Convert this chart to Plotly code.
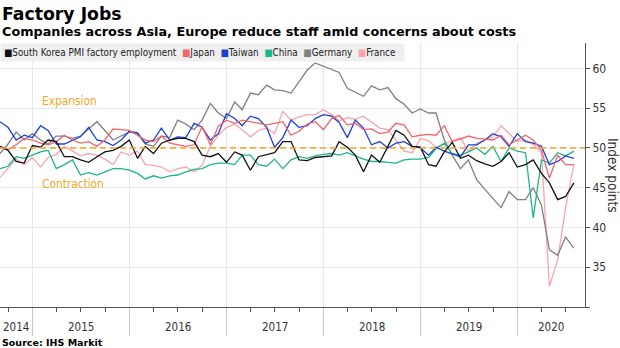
import pandas as pd
import plotly.graph_objects as go

# Monthly readings, Aug 2014 .. Jul 2020, plotted at month end
months = pd.date_range("2014-09-01", periods=72, freq="MS") - pd.Timedelta(days=1)

south_korea = [50.2, 49.7, 48.3, 48.1, 50.3, 50.1, 51.0, 50.8, 48.9, 48.9, 48.5, 48.2,
               48.9, 49.5, 49.7, 50.2, 51.0, 48.7, 50.2, 49.3, 50.6, 51.0, 51.2, 51.2,
               50.8, 49.1, 48.9, 49.3, 48.2, 49.5, 49.1, 47.2, 48.9, 49.2, 49.4, 50.8,
               50.8, 48.5, 48.4, 48.8, 48.9, 49.0, 50.8, 50.1, 49.1, 47.0, 49.1, 48.2,
               50.2, 52.2, 51.6, 50.2, 50.1, 47.9, 47.7, 49.5, 50.7, 48.7, 49.1, 48.4,
               48.0, 47.7, 48.3, 49.4, 47.6, 47.9, 48.5, 46.8, 45.6, 43.5, 43.9, 45.6]
japan = [50.2, 49.8, 50.4, 51.2, 51.0, 50.6, 50.4, 50.8, 51.6, 51.0, 50.6, 50.8,
         50.2, 51.0, 52.4, 52.3, 52.2, 51.6, 51.0, 50.8, 51.5, 50.6, 50.4, 50.2,
         50.4, 52.7, 50.4, 52.7, 53.5, 53.1, 53.5, 53.3, 53.1, 52.9, 53.1, 53.3,
         51.6, 52.1, 53.0, 53.3, 52.3, 53.7, 54.1, 52.9, 53.1, 52.3, 52.4, 51.8,
         52.0, 53.1, 52.9, 51.4, 51.6, 51.7, 51.6, 52.8, 50.8, 51.1, 51.5, 51.2,
         51.1, 51.0, 51.6, 50.4, 51.0, 51.6, 51.0, 49.7, 46.2, 49.1, 47.9, 47.9]
taiwan = [53.3, 52.6, 51.0, 51.6, 51.3, 52.8, 52.2, 50.5, 50.5, 51.0, 51.4, 52.6,
          51.0, 50.8, 50.3, 51.0, 52.1, 51.9, 50.6, 51.0, 52.5, 51.0, 51.4, 51.3,
          53.1, 52.6, 51.0, 51.8, 54.3, 53.7, 52.8, 54.0, 53.7, 52.6, 50.1, 51.3,
          53.5, 52.6, 52.8, 53.7, 54.2, 54.0, 53.2, 51.3, 53.5, 52.5, 50.4, 50.8,
          50.0, 50.6, 50.8, 50.2, 50.0, 49.1, 50.1, 49.6, 49.3, 48.9, 50.4, 50.4,
          51.0, 51.8, 51.4, 50.2, 51.8, 50.8, 50.6, 50.2, 47.9, 48.3, 49.0, 48.7]
china = [47.4, 47.7, 48.9, 48.7, 49.1, 49.5, 49.7, 47.4, 47.9, 48.5, 46.6, 46.9,
         46.6, 47.0, 47.4, 47.4, 47.2, 46.8, 46.1, 46.5, 46.2, 46.5, 46.6, 47.0,
         47.3, 47.4, 47.9, 48.1, 48.1, 47.9, 49.1, 49.1, 47.9, 47.7, 48.6, 47.4,
         48.5, 48.9, 48.7, 49.0, 49.2, 49.3, 49.1, 49.4, 49.0, 48.6, 48.3, 48.3,
         48.2, 48.1, 48.5, 48.6, 48.6, 48.8, 49.9, 50.6, 49.3, 49.1, 49.5, 50.0,
         49.2, 50.2, 48.3, 50.0, 49.6, 49.4, 41.2, 48.5, 48.1, 49.4, 49.0, 49.6]
germany = [49.3, 50.5, 52.0, 51.0, 51.8, 51.0, 50.5, 51.5, 51.5, 51.2, 51.5, 52.4,
           53.3, 52.2, 51.0, 51.5, 52.0, 51.8, 50.5, 50.2, 51.5, 51.3, 53.5, 53.0,
           52.3, 53.5, 55.6, 54.4, 53.7, 55.8, 54.8, 56.9, 56.7, 57.9, 57.3, 57.2,
           56.9, 58.3, 59.8, 60.7, 60.3, 59.9, 59.5, 57.5, 57.0, 56.5, 57.8, 57.3,
           57.6, 56.2, 55.5, 54.4, 54.9, 54.4, 54.4, 51.0, 49.1, 47.4, 48.5, 46.0,
           44.8, 43.7, 42.5, 44.5, 43.5, 43.5, 45.0, 42.8, 37.2, 36.5, 38.8, 37.4]
france = [46.3, 47.5, 48.6, 47.9, 48.8, 47.6, 48.8, 49.2, 50.2, 49.6, 49.0, 49.3,
          49.1, 48.6, 47.9, 49.5, 49.1, 49.6, 47.9, 47.8, 47.6, 47.0, 47.4, 47.6,
          47.0, 47.8, 50.2, 51.6, 52.6, 53.0, 52.3, 51.4, 52.2, 52.5, 51.8, 54.6,
          53.5, 53.9, 54.2, 54.2, 54.8, 54.2, 53.4, 53.8, 53.6, 54.0, 53.3, 52.5,
          52.3, 51.0, 49.6, 49.4, 51.2, 50.9, 50.1, 50.5, 50.9, 51.3, 49.6, 50.6,
          51.0, 51.4, 52.8, 51.8, 50.8, 51.0, 50.4, 49.4, 32.6, 35.9, 42.5, 48.0]

names = ["South Korea PMI factory employment", "Japan", "Taiwan", "China", "Germany", "France"]
values = [south_korea, japan, taiwan, china, germany, france]
colors = ["#111111", "#f4646a", "#1f3fd3", "#1eb58c", "#808080", "#f7a6ae"]

years = [2014, 2015, 2016, 2017, 2018, 2019, 2020]
y_ticks = [30, 35, 40, 45, 50, 55, 60]
THRESHOLD = 50

X_START = pd.Timestamp("2014-08-31")
X_END = pd.Timestamp("2020-09-11")
Y_RANGE = [30, 63.2]

BODY = "DejaVu Sans Condensed, DejaVu Sans, sans-serif"
BOLD = "DejaVu Sans, sans-serif"
ORANGE = "#f5a623"

fig = go.Figure()

# later series first so South Korea sits on top
for name, vals, col in reversed(list(zip(names, values, colors))):
    fig.add_trace(go.Scatter(x=months, y=vals, mode="lines", name=name,
                             line=dict(color=col, width=1.3), showlegend=False))

fig.add_hline(y=THRESHOLD, line=dict(color=ORANGE, width=1.6, dash="6px,4px"))

year_starts = [pd.Timestamp(f"{y}-01-01") for y in years if pd.Timestamp(f"{y}-01-01") > X_START]

annotations = []
# year labels centred on the visible part of each year
for y in years:
    a = max(pd.Timestamp(f"{y}-01-01"), X_START)
    b = min(pd.Timestamp(f"{y + 1}-01-01"), X_END)
    mid = a + (b - a) / 2
    annotations.append(dict(x=mid, y=0, xref="x", yref="paper", yshift=-20,
                            text=str(y), showarrow=False, yanchor="middle",
                            font=dict(family=BODY, size=11.5, color="#333")))

# legend strip
legend_text = "\u00a0\u00a0".join(
    f"<span style='color:{c}'>\u25a0</span>{n}" for n, c in zip(names, colors))
annotations.append(dict(x=0, y=1, xref="paper", yref="paper", xanchor="left", yanchor="top",
                        text=legend_text + "\u00a0\u00a0", showarrow=False, align="left",
                        bgcolor="#efefef", borderpad=3,
                        font=dict(family=BODY, size=9.8, color="#222")))

annotations += [
    dict(x=40 / 585, y=55.9, xref="paper", yref="y", xanchor="left", text="Expansion",
         showarrow=False, font=dict(family=BODY, size=11.8, color=ORANGE)),
    dict(x=40 / 585, y=45.5, xref="paper", yref="y", xanchor="left", text="Contraction",
         showarrow=False, font=dict(family=BODY, size=11.8, color=ORANGE)),
    dict(x=1, y=0.5, xref="paper", yref="paper", xanchor="left", yanchor="middle",
         xshift=18, text="Index points",
         textangle=90, showarrow=False, font=dict(family=BODY, size=13.5, color="#333")),
    dict(x=0, y=1, xref="paper", yref="paper", xanchor="left", yanchor="middle", yshift=29,
         text="<b>Factory Jobs</b>", showarrow=False,
         font=dict(family=BOLD, size=17.3, color="#000")),
    dict(x=0, y=1, xref="paper", yref="paper", xanchor="left", yanchor="middle", yshift=12,
         text="<b>Companies across Asia, Europe reduce staff amid concerns about costs</b>",
         showarrow=False, font=dict(family=BOLD, size=12.8, color="#000")),
    dict(x=0, y=0, xref="paper", yref="paper", xanchor="left", yanchor="middle", yshift=-35,
         text="<b>Source: IHS Markit</b>", showarrow=False,
         font=dict(family=BOLD, size=9.5, color="#000")),
]

fig.update_layout(
    width=620, height=348,
    margin=dict(l=0, r=35, t=43, b=41),
    paper_bgcolor="white", plot_bgcolor="white",
    showlegend=False,
    font=dict(family=BODY, size=12, color="#333"),
    annotations=annotations,
    xaxis=dict(type="date", range=[X_START, X_END], tickvals=year_starts,
               ticktext=[""] * len(year_starts), ticks="outside", ticklen=28,
               tickcolor="#c8c8c8", showgrid=True, gridcolor="#e8e8e8", zeroline=False,
               showline=True, linecolor="#555", linewidth=1,
               minor=dict(ticks="outside", ticklen=4, tickcolor="#555",
                          dtick="M3", tick0="2014-01-01", showgrid=False)),
    yaxis=dict(side="right", range=Y_RANGE, tickvals=y_ticks,
               ticktext=["" if v == 30 else str(v) for v in y_ticks],
               ticks="outside", ticklen=4, tickcolor="#555", showgrid=True,
               gridcolor="#e8e8e8", zeroline=False, showline=True, linecolor="#555",
               tickfont=dict(family=BODY, size=12, color="#333")),
)

fig.write_html("out.html")
